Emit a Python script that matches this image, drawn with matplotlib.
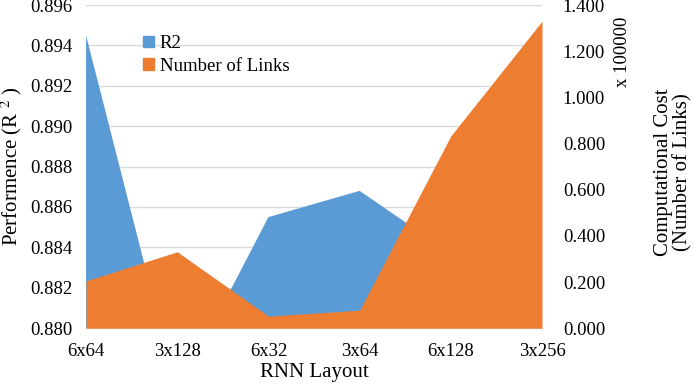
import matplotlib
matplotlib.use('Agg')
import matplotlib.pyplot as plt
from matplotlib.patches import Patch

# data
layouts = ['6x64', '3x128', '6x32', '3x64', '6x128', '3x256']
r2 = [0.8945, 0.8768, 0.8855, 0.8868, 0.8837, 0.8830]
links = [0.205, 0.331, 0.052, 0.078, 0.833, 1.330]   # x 100000

blue = '#5B9BD5'
orange = '#ED7D31'

plt.rcParams['font.family'] = ['Liberation Serif', 'DejaVu Serif']
plt.rcParams['mathtext.fontset'] = 'stix'
plt.rcParams['font.size'] = 13.5

fig = plt.figure(figsize=(6.94, 3.87), dpi=100)
ax = fig.add_axes([0.124, 0.152, 0.657, 0.835])
ax2 = ax.twinx()

x = list(range(len(layouts)))
ax.fill_between(x, r2, 0, color=blue, lw=0)
ax2.fill_between(x, links, 0, color=orange, lw=0)

ax.set_xlim(0, len(layouts) - 1)
ax.set_ylim(0.880, 0.896)
ax.set_yticks([0.880 + 0.002 * i for i in range(9)])
ax.yaxis.set_major_formatter(matplotlib.ticker.FormatStrFormatter('%.3f'))
ax2.set_ylim(0, 1.4)
ax2.set_yticks([0.2 * i for i in range(8)])
ax2.yaxis.set_major_formatter(matplotlib.ticker.FormatStrFormatter('%.3f'))

ax.set_xticks(x)
ax.set_xticklabels(layouts)
ax.set_axisbelow(True)
ax.grid(axis='y', color='#D9D9D9', lw=1)

for a in (ax, ax2):
    for s in a.spines.values():
        s.set_visible(False)
    a.tick_params(length=0, labelsize=13.5)
ax.spines['bottom'].set_visible(True)
ax.spines['bottom'].set_color('#D9D9D9')
ax.tick_params(axis='y', pad=10)
ax.tick_params(axis='x', pad=11)
ax2.tick_params(axis='y', pad=15)

ax.set_xlabel('RNN Layout', fontsize=15, labelpad=2)
ax.set_ylabel('Performence (R $^{2}$ )', fontsize=15, labelpad=4)

fig.text(0.897, 0.865, 'x 100000', rotation=90, ha='center', va='center', fontsize=13.5)
fig.text(0.970, 0.555, 'Computational Cost\n(Number of Links)', rotation=90,
         ha='center', va='center', fontsize=15, linespacing=1.0)

handles = [Patch(color=blue, label='R2'), Patch(color=orange, label='Number of Links')]
ax2.legend(handles=handles, loc='upper left', bbox_to_anchor=(0.108, 0.93),
           frameon=False, fontsize=13.5, handlelength=0.6, handleheight=0.6,
           handletextpad=0.3, labelspacing=0.3, borderaxespad=0)

fig.savefig('out.png', dpi=100)
